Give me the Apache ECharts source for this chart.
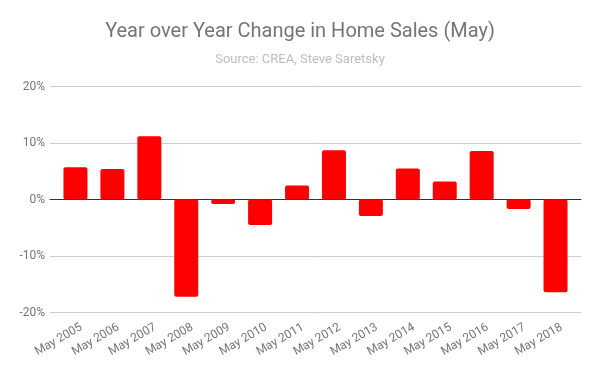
<!DOCTYPE html>
<html><head><meta charset="utf-8">
<script src="https://cdn.jsdelivr.net/npm/echarts@6/dist/echarts.min.js"></script>
<style>html,body{margin:0;padding:0;background:#fff}#c{width:600px;height:371px}</style>
</head><body><div id="c"></div>
<script>
const categories = ['May 2005','May 2006','May 2007','May 2008','May 2009','May 2010','May 2011','May 2012','May 2013','May 2014','May 2015','May 2016','May 2017','May 2018'];
const changes = [5.7, 5.4, 11.2, -17.2, -0.8, -4.5, 2.5, 8.7, -2.9, 5.5, 3.2, 8.6, -1.7, -16.4];
const yTicks = [-20, -10, 0, 10, 20];

const chart = echarts.init(document.getElementById('c'), null, {renderer:'canvas'});
const font = 'Roboto';
chart.setOption({
  animation:false,
  textStyle:{fontFamily:font},
  title:{
    text:'Year over Year Change in Home Sales (May)',
    subtext:'Source: CREA, Steve Saretsky',
    left:'center', top:17, itemGap:11,
    textStyle:{fontFamily:font,fontSize:20,fontWeight:'normal',color:'#757575'},
    subtextStyle:{fontFamily:font,fontSize:13,color:'#bdbdbd'}
  },
  grid:[
    {left:50, right:19, top:86.5, bottom:58.5},
    {left:57, right:26, top:86.5, bottom:58.5},
    {left:63, right:20, top:86.5, bottom:58.5}
  ],
  xAxis:[
    {gridIndex:0, type:'value', min:0, max:1, axisLine:{show:true,onZero:true,lineStyle:{color:'#333',width:1}},
     axisTick:{show:false}, axisLabel:{show:false}, splitLine:{show:false}},
    {gridIndex:1, type:'category', data:categories, axisLine:{show:false}, axisTick:{show:false},
     axisLabel:{show:false}},
    {gridIndex:2, type:'category', data:categories, axisLine:{show:false}, axisTick:{show:false},
     axisLabel:{rotate:30, interval:0, margin:14, fontFamily:font, fontSize:12, color:'#757575'}}
  ],
  yAxis:[
    {gridIndex:0, type:'value', min:yTicks[0], max:yTicks[yTicks.length-1], interval:10,
     axisLine:{show:false}, axisTick:{show:false},
     axisLabel:{formatter:'{value}%', margin:5, fontFamily:font, fontSize:12, color:'#757575'},
     splitLine:{lineStyle:{color:'#cccccc',width:1}}},
    {gridIndex:1, type:'value', min:yTicks[0], max:yTicks[yTicks.length-1], interval:10,
     axisLine:{show:false}, axisTick:{show:false}, axisLabel:{show:false}, splitLine:{show:false}},
    {gridIndex:2, type:'value', min:yTicks[0], max:yTicks[yTicks.length-1], interval:10,
     axisLine:{show:false}, axisTick:{show:false}, axisLabel:{show:false}, splitLine:{show:false}}
  ],
  series:[{
    type:'bar', xAxisIndex:1, yAxisIndex:1, data:changes, barWidth:24,
    itemStyle:{color:'#ff0000', borderRadius:2}
  }]
});
</script></body></html>
